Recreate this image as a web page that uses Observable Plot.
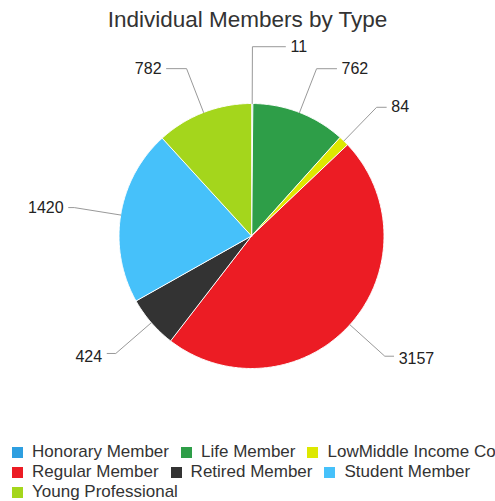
<!DOCTYPE html>
<html><head><meta charset="utf-8">
<script src="https://cdn.jsdelivr.net/npm/d3@7"></script>
<script src="https://cdn.jsdelivr.net/npm/@observablehq/plot@0.6"></script>
<style>
body{margin:0;background:#fff;font-family:"Liberation Sans",Arial,sans-serif;position:relative;}
#title{position:absolute;left:0;top:0;width:495px;height:40px;line-height:40px;text-align:center;font-size:22.5px;color:#333;z-index:2;}
#chart{padding-top:30px;}
#legwrap{width:495px;overflow:hidden;margin-top:12px;}
.lg-swatches{width:510px;padding-left:12px;margin:0 !important;}
.lg-swatch{margin-right:12px !important;height:20px;}
.lg-swatch > svg{margin-right:9px !important;}
</style></head><body>
<div id="title">Individual Members by Type</div>
<div id="chart"></div>
<div id="legwrap"></div>
<script>
const categories = ["Honorary Member","Life Member","LowMiddle Income Co","Regular Member","Retired Member","Student Member","Young Professional"];
const values = [11, 762, 84, 3157, 424, 1420, 782];
const colors = ["#2e9fe0","#2e9e48","#dde800","#ec1c24","#333333","#46c1fa","#a4d61c"];

const rows = categories.map((name, i) => ({name, value: values[i]}));
const R = 132.5, RB = 179.5, RL = 190, GAP = 22;
const arcs = d3.pie().sort(null).value(d => d.value)(rows);

const slicePts = [];
const info = [];
for (const a of arcs) {
  const name = a.data.name;
  slicePts.push({name, x: 0, y: 0});
  const n = Math.max(2, Math.ceil((a.endAngle - a.startAngle) / 0.01));
  for (let k = 0; k <= n; k++) {
    const t = a.startAngle + (a.endAngle - a.startAngle) * k / n;
    slicePts.push({name, x: R * Math.sin(t), y: R * Math.cos(t)});
  }
  const m = (a.startAngle + a.endAngle) / 2;
  const s = Math.sin(m) >= 0 ? 1 : -1;
  info.push({name, m, s, value: a.data.value,
    p0: {x: R * Math.sin(m), y: R * Math.cos(m)},
    p1: {x: RB * Math.sin(m), y: RB * Math.cos(m)}, pushed: false});
}
// simple overlap avoidance: push upper labels up on each side
for (const side of [1, -1]) {
  const grp = info.filter(d => d.s === side).sort((a, b) => a.p1.y - b.p1.y);
  for (let i = 1; i < grp.length; i++) {
    if (grp[i].p1.y - grp[i - 1].p1.y < GAP) {
      grp[i].p1 = {x: grp[i].p1.x, y: grp[i - 1].p1.y + GAP};
      grp[i].pushed = true;
    }
  }
}
const connPts = [];
const labels = [];
for (const d of info) {
  let lx = d.s * Math.sqrt(Math.max(0, RL * RL - d.p1.y * d.p1.y));
  if (d.pushed) lx = d.s * (Math.abs(d.p1.x) + 38);
  connPts.push({name: d.name, ...d.p0}, {name: d.name, ...d.p1}, {name: d.name, x: lx - d.s * 5, y: d.p1.y});
  labels.push({x: lx, y: d.p1.y, text: String(d.value), side: d.s, low: d.p1.y < 0});
}

const font = '"Liberation Sans", Arial, sans-serif';
const chart = Plot.plot({
  width: 495, height: 400,
  margin: 0,
  style: {fontFamily: font, background: "white"},
  x: {domain: [-251, 244], range: [0, 495], axis: null},
  y: {domain: [205.5, -194.5], range: [0, 400], axis: null},
  color: {domain: categories, range: colors},
  marks: [
    Plot.line(slicePts, {x: "x", y: "y", z: "name", fill: "name", stroke: "white", strokeWidth: 1, curve: "linear-closed", strokeLinejoin: "round"}),
    Plot.line(connPts, {x: "x", y: "y", z: "name", stroke: "#999999", strokeWidth: 1}),
    Plot.text(labels.filter(d => d.side > 0 && !d.low), {x: "x", y: "y", text: "text", textAnchor: "start", fontSize: 16, fill: "#222"}),
    Plot.text(labels.filter(d => d.side < 0 && !d.low), {x: "x", y: "y", text: "text", textAnchor: "end", fontSize: 16, fill: "#222"}),
    Plot.text(labels.filter(d => d.side > 0 && d.low), {x: "x", y: "y", text: "text", textAnchor: "start", fontSize: 16, fill: "#222", dy: 3}),
    Plot.text(labels.filter(d => d.side < 0 && d.low), {x: "x", y: "y", text: "text", textAnchor: "end", fontSize: 16, fill: "#222", dy: 3})
  ]
});
document.getElementById("chart").appendChild(chart);

const legend = Plot.legend({
  color: {type: "ordinal", domain: categories, range: colors},
  legend: "swatches",
  swatchSize: 11,
  className: "lg",
  style: {fontSize: "17px", fontFamily: font, color: "#333"}
});
document.getElementById("legwrap").appendChild(legend);
</script>
</body></html>
